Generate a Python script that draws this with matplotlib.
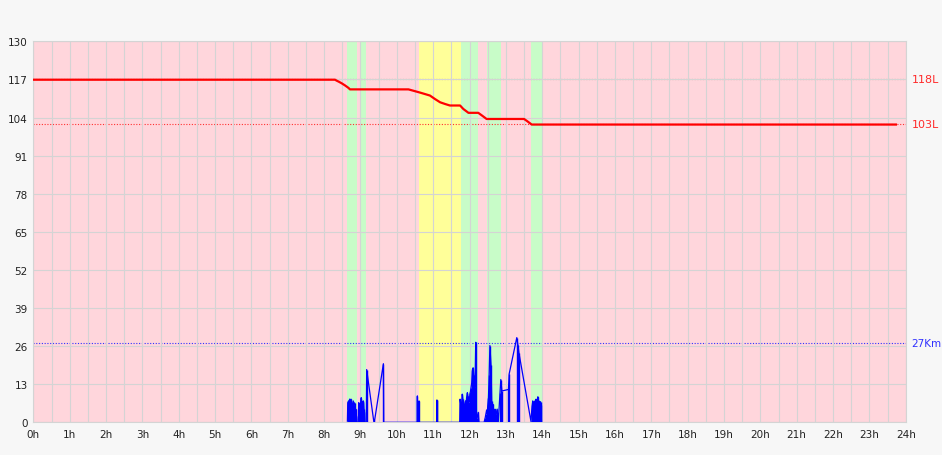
import matplotlib
matplotlib.use('Agg')
import matplotlib.pyplot as plt

# ---------------- data ----------------
hour_ticks = list(range(25))
hour_labels = [f"{h}h" for h in hour_ticks]
y_ticks = list(range(0, 131, 13))

green_bands = [(8.64, 8.91), (9.00, 9.15), (11.77, 12.24), (12.47, 12.86), (13.69, 13.98)]
yellow_bands = [(10.62, 11.77)]

fuel_t = [0.0, 8.30, 8.34, 8.39, 8.48, 8.58, 8.67, 8.71, 10.32, 10.64, 10.91, 11.05,
          11.19, 11.33, 11.46, 11.74, 11.83, 11.97, 12.24, 12.34, 12.47, 13.50, 13.57,
          13.71, 23.73]
fuel_v = [116.9, 116.9, 116.6, 116.3, 115.7, 114.9, 114.1, 113.6, 113.6, 112.5, 111.5, 110.3,
          109.2, 108.6, 108.1, 108.1, 106.9, 105.6, 105.6, 104.7, 103.5, 103.5, 102.9,
          101.6, 101.6]

speed_t = [8.64, 8.65, 8.66, 8.675, 8.69, 8.70, 8.715, 8.74, 8.76, 8.78, 8.80, 8.82, 8.84,
           8.855, 8.87, 8.89, 8.90,
           8.94, 8.95, 8.96, 8.975, 8.99, 9.005, 9.02, 9.03, 9.04, 9.06, 9.08, 9.095, 9.11, 9.12,
           9.16, 9.17, 9.36, 9.38, 9.63, 9.64,
           10.56, 10.565, 10.57, 10.60, 10.61, 10.615, 11.095, 11.10, 11.105, 11.11,
           11.73, 11.74, 11.755, 11.77, 11.785, 11.80, 11.815, 11.83, 11.845, 11.86, 11.875,
           11.89, 11.905, 11.92, 11.94, 11.955, 11.97, 11.99, 12.01, 12.025, 12.04, 12.06,
           12.08, 12.10, 12.115, 12.13, 12.15, 12.17, 12.19, 12.21, 12.24, 12.26,
           12.40, 12.43, 12.45, 12.47, 12.49, 12.50, 12.52, 12.54, 12.56, 12.59, 12.61, 12.63,
           12.64, 12.66, 12.67, 12.69, 12.70, 12.72, 12.73, 12.76, 12.79,
           12.84, 12.86, 12.89, 13.07, 13.09, 13.30, 13.33, 13.36, 13.69,
           13.71, 13.725, 13.74, 13.755, 13.77, 13.785, 13.80, 13.815, 13.83, 13.845, 13.86,
           13.875, 13.88, 13.895, 13.91, 13.925, 13.94, 13.955, 13.96, 13.98]
speed_v = [0.5, 6.7, 7.0, 7.3, 6.5, 7.9, 7.6, 7.9, 5.6, 6.2, 7.3, 6.0, 6.6,
           3.4, 4.5, 2.0, 0.0,
           0.0, 6.7, 6.5, 3.4, 3.2, 7.0, 8.4, 7.2, 5.6, 6.8, 7.3, 4.5, 3.5, 0.0,
           0.0, 18.0, 0.8, 0.0, 20.0, 0.0,
           0.0, 9.0, 0.0, 0.0, 7.3, 0.0, 0.0, 7.6, 7.6, 0.0,
           0.0, 7.9, 6.5, 6.0, 7.0, 9.6, 8.0, 7.3, 5.0, 3.9, 6.5,
           7.3, 6.0, 8.5, 10.1, 9.0, 8.4, 7.0, 9.6, 10.5, 11.8, 13.5,
           18.0, 18.6, 16.0, 15.0, 12.0, 27.3, 2.8, 1.5, 3.4, 0.0,
           0.0, 1.5, 2.8, 4.2, 3.0, 5.6, 8.4, 16.3, 26.2, 19.7, 7.3, 5.0,
           6.2, 2.5, 3.9, 1.0, 4.5, 2.0, 2.8, 4.5, 0.0,
           10.1, 14.6, 10.7, 11.2, 16.5, 28.9, 26.4, 23.6, 0.3,
           3.9, 6.0, 7.3, 4.5, 5.6, 6.8, 7.3, 5.0, 7.9, 6.5, 5.6,
           7.0, 8.7, 6.0, 7.3, 5.5, 6.2, 7.0, 6.0, 0.0]

ref_levels = [117.0, 101.8]
ref_labels = ["118L", "103L"]
ref_colors = ["#a04848", "#ff3030"]
km_level = 27.2
km_label = "27Km"

# ---------------- figure ----------------
plt.rcParams['font.family'] = ['DejaVu Sans']
fig = plt.figure(figsize=(9.42, 4.56), dpi=100, facecolor='#f7f7f7')
ax = fig.add_axes([0.0354, 0.0717, 0.9261, 0.8355])
ax.set_facecolor('#ffd6dc')

for a, b in green_bands:
    ax.axvspan(a, b, color='#c8fcc8', lw=0, zorder=0.5)
for a, b in yellow_bands:
    ax.axvspan(a, b, color='#ffff99', lw=0, zorder=0.5)

ax.set_xlim(0, 24)
ax.set_ylim(0, 130)
ax.set_xticks(hour_ticks)
ax.set_xticklabels(hour_labels)
ax.set_xticks([h + 0.5 for h in range(24)], minor=True)
ax.set_yticks(y_ticks)
ax.tick_params(axis='both', which='both', length=0, labelsize=7.5, colors='#222222')
ax.tick_params(axis='x', pad=5)
ax.tick_params(axis='y', pad=4)
ax.grid(True, which='both', axis='x', color='#d4d4d4', lw=0.8, zorder=1)
ax.grid(True, which='major', axis='y', color='#d4d4d4', lw=0.8, zorder=1)
ax.set_axisbelow(False)
for s in ax.spines.values():
    s.set_color('#d4d4d4')
    s.set_linewidth(0.8)

for lvl, lab, col in zip(ref_levels, ref_labels, ref_colors):
    ax.axhline(lvl, color=col, ls=(0, (1, 1.5)), lw=0.8, zorder=2)
    ax.text(24.17, lvl, lab, color='#ff2a2a', fontsize=8, ha='left', va='center', clip_on=False)
ax.axhline(km_level, color='#3030ff', ls=(0, (1, 1.5)), lw=0.8, zorder=2)
ax.text(24.14, km_level, km_label, color='#3030ff', fontsize=7.5, ha='left', va='center', clip_on=False)

ax.vlines(speed_t, 0, speed_v, color='#0000ff', lw=1.0, zorder=3)
ax.plot(speed_t, speed_v, color='#0000ff', lw=0.9, zorder=3)

ax.plot(fuel_t, fuel_v, color='#ff0000', lw=1.6, zorder=4)

fig.savefig('out.png', dpi=100, facecolor=fig.get_facecolor())
